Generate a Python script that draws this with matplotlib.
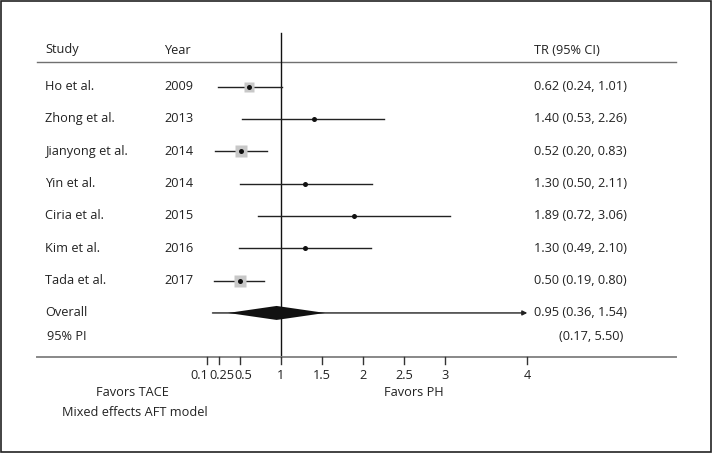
import matplotlib
matplotlib.use("Agg")
import matplotlib.pyplot as plt
from matplotlib.patches import Polygon, Rectangle

plt.rcParams['font.family'] = ['Open Sans', 'DejaVu Sans']

# ---------------- data ----------------
studies = ["Ho et al.", "Zhong et al.", "Jianyong et al.", "Yin et al.",
           "Ciria et al.", "Kim et al.", "Tada et al."]
years = ["2009", "2013", "2014", "2014", "2015", "2016", "2017"]
tr = [0.62, 1.40, 0.52, 1.30, 1.89, 1.30, 0.50]
lo = [0.24, 0.53, 0.20, 0.50, 0.72, 0.49, 0.19]
hi = [1.01, 2.26, 0.83, 2.11, 3.06, 2.10, 0.80]
box_px = [9.5, 3, 12, 3, 2, 3, 12]   # relative weight boxes
overall = 0.95
overall_lo, overall_hi = 0.36, 1.54
pi_lo, pi_hi = 0.17, 5.50
ticks = [0.1, 0.25, 0.5, 1, 1.5, 2, 2.5, 3, 4]
tick_labels = ["0.1", "0.25", "0.5", "1", "1.5", "2", "2.5", "3", "4"]
axis_max = 4.0

# ---------------- layout ----------------
W, H = 714, 453
X0PX, XSCALE = 198.5, 82.2   # pixel of TR=0 and pixels per TR unit


def px2x(px):
    return (px - X0PX) / XSCALE


fig = plt.figure(figsize=(W / 100, H / 100), dpi=100)
ax = fig.add_axes([0, 0, 1, 1])
ax.set_xlim(px2x(0), px2x(W))
ax.set_ylim(H, 0)
ax.axis('off')

fs = 9.2
tc = '#222222'
row0, drow = 86.5, 32.35
header_y = 50
overall_y = row0 + drow * len(studies)
pi_y = 336
axis_y = 357
col_ci = 534

# frame
fig.patches.append(Rectangle((1 / W, 1 / H), (711 - 1) / W, (452 - 1) / H,
                             transform=fig.transFigure, fill=False,
                             edgecolor='#222222', lw=1.2))

# headers
ax.text(px2x(45.5), header_y, "Study", fontsize=fs, color=tc, va='center', ha='left')
ax.text(px2x(164), header_y, "Year", fontsize=fs, color=tc, va='center', ha='left')
ax.text(px2x(col_ci), header_y, "TR (95% CI)", fontsize=fs, color=tc, va='center', ha='left')
ax.plot([px2x(37), px2x(676)], [62.3, 62.3], color='#707070', lw=1.0)

# reference line at 1
ax.plot([1, 1], [33, axis_y], color='#111111', lw=1.0)

# studies
for i, (s, yv, t, l, h, b) in enumerate(zip(studies, years, tr, lo, hi, box_px)):
    y = row0 + drow * i
    ax.text(px2x(45.5), y, s, fontsize=fs, color=tc, va='center', ha='left')
    ax.text(px2x(164), y, yv, fontsize=fs, color=tc, va='center', ha='left')
    ax.plot([l, h], [y, y], color='#222222', lw=1.0, zorder=2)
    ax.plot([t], [y], marker='s', ms=b * 0.72, color='#c8c8c8', mec='none', zorder=3)
    ax.plot([t], [y], marker='o', ms=3.6, color='#111111', mec='none', zorder=4)
    ax.text(px2x(col_ci), y, f"{t:.2f} ({l:.2f}, {h:.2f})", fontsize=fs, color=tc,
            va='center', ha='left')

# overall
ax.text(px2x(45.5), overall_y, "Overall", fontsize=fs, color=tc, va='center', ha='left')
ax.annotate('', xy=(min(pi_hi, axis_max), overall_y), xytext=(pi_lo, overall_y),
            arrowprops=dict(arrowstyle='-|>', lw=1.0, color='#222222',
                            mutation_scale=7, shrinkA=0, shrinkB=0), zorder=2)
dh = 7
ax.add_patch(Polygon([(overall_lo, overall_y), (overall, overall_y - dh),
                      (overall_hi, overall_y), (overall, overall_y + dh)],
                     closed=True, facecolor='#111111', edgecolor='none', zorder=3))
ax.text(px2x(col_ci), overall_y, f"{overall:.2f} ({overall_lo:.2f}, {overall_hi:.2f})",
        fontsize=fs, color=tc, va='center', ha='left')
ax.text(px2x(47), pi_y, "95% PI", fontsize=fs, color=tc, va='center', ha='left')
ax.text(px2x(623), pi_y, f"({pi_lo:.2f}, {pi_hi:.2f})", fontsize=fs, color=tc,
        va='center', ha='right')

# x axis
ax.plot([px2x(37), px2x(676)], [axis_y, axis_y], color='#888888', lw=1.4)
label_shift_px = [-7.5, 2.5, 3.5, 0, 0, 0, 0, 0, 0]
for t, lab, sh in zip(ticks, tick_labels, label_shift_px):
    ax.plot([t, t], [axis_y, axis_y + 6.5], color='#333333', lw=1.0)
    ax.text(t + sh / XSCALE, 375.5, lab, fontsize=fs, color=tc, va='center', ha='center')

ax.text(px2x(132.5), 392.5, "Favors TACE", fontsize=fs, color=tc, va='center', ha='center')
ax.text(px2x(414), 392.5, "Favors PH", fontsize=fs, color=tc, va='center', ha='center')
ax.text(px2x(62.5), 412.5, "Mixed effects AFT model", fontsize=fs, color=tc,
        va='center', ha='left')

fig.savefig("out.png", dpi=100)
